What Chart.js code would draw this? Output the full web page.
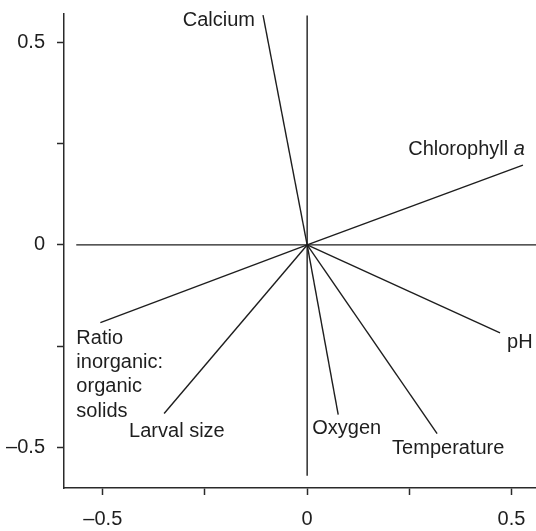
<!DOCTYPE html>
<html>
<head>
<meta charset="utf-8">
<script src="https://cdn.jsdelivr.net/npm/chart.js@4/dist/chart.umd.min.js"></script>
<style>
  html, body { margin: 0; padding: 0; background: #ffffff; }
</style>
</head>
<body>
<canvas id="chart" width="536" height="531"></canvas>
<script>
// variable vectors of the ordination (axis 1, axis 2 loadings)
const variables = [
    "Calcium",
    "Chlorophyll a",
    "pH",
    "Temperature",
    "Oxygen",
    "Larval size",
    "Ratio inorganic: organic solids",
];
const axis1 = [-0.108, 0.528, 0.472, 0.318, 0.076, -0.35, -0.506];
const axis2 = [0.567, 0.197, -0.217, -0.466, -0.419, -0.416, -0.192];

// the cross through the origin
const crossX = [-0.565, 0.56];
const crossY = [-0.57, 0.566];

const tickValues = [-0.5, -0.25, 0, 0.25, 0.5];
const tickLabels = ["–0.5", "", "0", "", "0.5"];

const ink = "#1e1e1e";
const font = "Liberation Sans, Arial, Helvetica, sans-serif";

// where each label sits relative to the tip of its vector (pixels)
const labelLayout = {
    "Calcium": { dx: -8, dy: 11, align: "right", lines: ["Calcium"] },
    "Chlorophyll a": { dx: 2, dy: -10, align: "right", lines: ["Chlorophyll a"] },
    "pH": { dx: 7, dy: 15, align: "left", lines: ["pH"] },
    "Temperature": { dx: -45, dy: 20, align: "left", lines: ["Temperature"] },
    "Oxygen": { dx: -26, dy: 19, align: "left", lines: ["Oxygen"] },
    "Larval size": { dx: -35, dy: 24, align: "left", lines: ["Larval size"] },
    "Ratio inorganic: organic solids": {
        dx: -24, dy: 21, align: "left",
        lines: ["Ratio", "inorganic:", "organic", "solids"],
    },
};

const vectorLabels = {
    id: "vectorLabels",
    afterDatasetsDraw(chart) {
        const { ctx, scales } = chart;
        ctx.save();
        ctx.fillStyle = ink;
        ctx.textBaseline = "alphabetic";
        variables.forEach((name, i) => {
            const L = labelLayout[name];
            const px = scales.x.getPixelForValue(axis1[i]) + L.dx;
            const py = scales.y.getPixelForValue(axis2[i]) + L.dy;
            L.lines.forEach((line, k) => {
                const y = py + k * 24.3;
                if (line === "Chlorophyll a") {
                    // italic "a"
                    ctx.font = "italic 20px " + font;
                    ctx.textAlign = "right";
                    ctx.fillText("a", px, y);
                    const w = ctx.measureText("a").width;
                    ctx.font = "20px " + font;
                    ctx.fillText("Chlorophyll ", px - w, y);
                } else {
                    ctx.font = "20px " + font;
                    ctx.textAlign = L.align;
                    ctx.fillText(line, px, y);
                }
            });
        });
        ctx.restore();
    },
};

const lineStyle = {
    borderColor: ink,
    borderWidth: 1.4,
    pointRadius: 0,
    showLine: true,
    fill: false,
};

const datasets = [
    { data: [{ x: crossX[0], y: 0 }, { x: crossX[1], y: 0 }], ...lineStyle },
    { data: [{ x: 0, y: crossY[0] }, { x: 0, y: crossY[1] }], ...lineStyle },
];
variables.forEach((name, i) => {
    datasets.push({
        label: name,
        data: [{ x: 0, y: 0 }, { x: axis1[i], y: axis2[i] }],
        ...lineStyle,
    });
});

const axisCommon = {
    type: "linear",
    border: { display: true, color: "#2a2a2a", width: 1.5 },
    grid: {
        drawOnChartArea: false,
        drawTicks: true,
        tickLength: 7,
        tickColor: "#2a2a2a",
        tickWidth: 1.5,
    },
    afterBuildTicks: (scale) => {
        scale.ticks = tickValues.map((v) => ({ value: v }));
    },
};

new Chart(document.getElementById("chart").getContext("2d"), {
    type: "scatter",
    data: { datasets },
    options: {
        responsive: false,
        animation: false,
        events: [],
        layout: { padding: { top: 14, right: 0, left: 0, bottom: 0 } },
        plugins: {
            legend: { display: false },
            tooltip: { enabled: false },
        },
        scales: {
            x: {
                ...axisCommon,
                min: -0.595,
                max: 0.56,
                afterFit: (scale) => {
                    scale.height = 43;
                    scale.paddingLeft = 0;
                    scale.paddingRight = 0;
                },
                ticks: {
                    autoSkip: false,
                    maxRotation: 0,
                    padding: 12,
                    color: ink,
                    font: { family: font, size: 20 },
                    callback: (v) => tickLabels[tickValues.indexOf(v)],
                },
            },
            y: {
                ...axisCommon,
                min: -0.6,
                max: 0.57,
                afterFit: (scale) => {
                    scale.width = 64;
                    scale.paddingTop = 0;
                    scale.paddingBottom = 0;
                },
                ticks: {
                    autoSkip: false,
                    padding: 12,
                    color: ink,
                    font: { family: font, size: 20 },
                    callback: (v) => tickLabels[tickValues.indexOf(v)],
                },
            },
        },
    },
    plugins: [vectorLabels],
});
</script>
</body>
</html>
